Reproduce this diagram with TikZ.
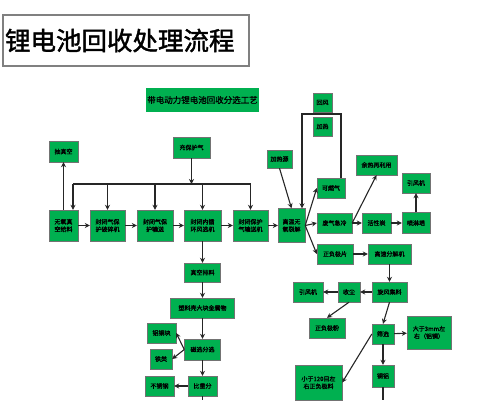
\documentclass[tikz,border=0pt]{standalone}
\usepackage{fontspec}
\newfontfamily\cjk[FakeBold=1.2]{Noto Sans CJK SC}
\newfontfamily\cjktitle[FakeBold=1.6]{Noto Sans CJK SC}
\usetikzlibrary{arrows.meta, calc}
\definecolor{boxgreen}{RGB}{0,176,80}

\begin{document}
\begin{tikzpicture}[x=1pt, y=-1pt,
	box/.style={draw=black!55, fill=boxgreen, inner sep=0pt, align=center, font=\cjk\fontsize{6}{7.5}\selectfont},
	sz/.style 2 args={minimum width=#1pt, minimum height=#2pt},
	link/.style={line width=1.1pt, black!85, -{Stealth[length=5pt, width=5pt]}},
	plain/.style={line width=1.1pt, black!85}]
	\useasboundingbox (0,0) rectangle (500,400);
	% title and header
	\node[draw=black!50, line width=2pt, minimum height=51pt, inner xsep=2pt, text width=242pt, align=left, font=\cjktitle\fontsize{25.5}{30}\selectfont] (title) at (126,40.5) {锂电池回收处理流程};
	\node[box, draw=none, sz={113}{24}, font=\cjk\fontsize{8.5}{10}\selectfont] (head) at (202.5,100) {带电动力锂电池回收分选工艺};
	% main line
	\node[box, sz={29}{21}] (cz) at (63.5,151.5) {抽真空};
	\node[box, sz={37}{21}] (cbh) at (191.5,147.5) {充保护气};
	\node[box, sz={29}{31}] (wy) at (63.5,225.5) {无氧真\\空给料};
	\node[box, sz={35}{31}] (psj) at (107.5,225.5) {封闭气保\\护破碎机};
	\node[box, sz={36}{31}] (ss) at (155,225.5) {封闭气保\\护输送};
	\node[box, sz={37}{31}] (fx) at (202.5,225.5) {封闭内循\\环风选机};
	\node[box, sz={35}{31}] (ssj) at (250.5,225.5) {封闭保护\\气输送机};
	\node[box, sz={27}{34}] (lj) at (291.5,225.5) {高温无\\氧裂解};
	\node[box, sz={25}{18}] (jry) at (279.5,159) {加热源};
	% gas side
	\node[box, sz={19}{19}] (hf) at (322.5,102.5) {回风};
	\node[box, sz={19}{19}] (jr) at (322.5,126.5) {加热};
	\node[box, sz={28}{20}] (krq) at (331,188) {可燃气};
	\node[box, sz={41}{20}] (yr) at (376.5,165) {余热再利用};
	\node[box, sz={35}{20}] (fq) at (334.5,223) {废气急冷};
	\node[box, sz={29}{20}] (hxt) at (376.5,223) {活性炭};
	\node[box, sz={28}{21}] (pl) at (416,223) {喷淋塔};
	\node[box, sz={28}{20}] (yfj1) at (416,183) {引风机};
	% electrode side
	\node[box, sz={36}{20}] (zfjp) at (335,254) {正负极片};
	\node[box, sz={43}{20}] (gsfj) at (389.5,254) {高速分解机};
	\node[box, sz={35}{20}] (xf) at (389.5,292) {旋风集料};
	\node[box, sz={22}{20}] (sc) at (349,292) {收尘};
	\node[box, sz={30}{20}] (yfj2) at (308,292) {引风机};
	\node[box, sz={36}{20}] (zfjf) at (327,328) {正负极粉};
	\node[box, sz={22}{20}] (sx) at (383,334) {筛选};
	\node[box, sz={44}{33}] (dy) at (429,332.5) {大于3mm左\\右（铝铜）};
	\node[box, sz={22}{22}] (tl) at (383,376) {铜铝};
	\node[box, sz={47}{35}] (xy) at (318.5,382.5) {小于120目左\\右正负极料};
	% shell and metal side
	\node[box, sz={36}{19}] (zkpl) at (202.5,272.5) {真空排料};
	\node[box, sz={64}{20}] (slk) at (202.5,308) {塑料壳大块金属物};
	\node[box, sz={29}{20}] (ltk) at (161.5,333) {铝铜块};
	\node[box, sz={36}{21}] (cx) at (202.5,349.5) {磁选分选};
	\node[box, sz={22}{20}] (tie) at (161,359) {铁类};
	\node[box, sz={29}{20}] (bzf) at (202.5,386) {比重分};
	\node[box, sz={29}{20}] (bxg) at (159.5,386) {不锈钢};

	% protective gas bus
	\coordinate (busL) at (73,184);
	\coordinate (busR) at (250.5,184);
	\draw[plain] (busL) -- (busR);
	\draw[link] (cbh.south) -- (cbh.south |- busL);
	\draw[link] (busL) -- (busL |- wy.north);
	\foreach \n in {psj, ss, fx, ssj} \draw[link] (busL -| \n.north) -- (\n.north);
	\draw[link] (wy) -- (cz);
	\foreach \a/\b in {wy/psj, psj/ss, ss/fx, fx/ssj, ssj/lj} \draw[link] (\a) -- (\b);
	% gas loop
	\coordinate (loopR) at (341,114);
	\coordinate (loopL) at (302,114);
	\draw[link] (krq.north -| loopR) -- (loopR) -- (loopL) -- (loopL |- lj.north);
	\draw[link] (jry.south) -- (lj.north);
	\draw[link] (lj.east) -- (krq.west);
	\draw[link] (lj.east) -- (fq.west);
	\draw[link] (lj.east) -- (zfjp.west);
	\draw[link] (fq.east) -- (yr.south);
	\foreach \a/\b in {fq/hxt, hxt/pl, pl/yfj1} \draw[link] (\a) -- (\b);
	% electrodes
	\foreach \a/\b in {zfjp/gsfj, gsfj/xf, xf/sc, sc/yfj2, sx/dy, sx/tl} \draw[link] (\a) -- (\b);
	\draw[link] (sc.south) -- (zfjf.north);
	\draw[link] (xf.south) -- (sx.north);
	\draw[link] (sx.west) -- (xy.east);
	\coordinate (out2) at (383,400);
	\draw[plain] (tl) -- (out2);
	% metals
	\foreach \a/\b in {fx/zkpl, zkpl/slk, slk/cx, cx/bzf, bzf/bxg} \draw[link] (\a) -- (\b);
	\draw[link] (cx.west) -- (ltk.east);
	\draw[link] (cx.west) -- (tie.east);
	\coordinate (out1) at (202.5,400);
	\draw[plain] (bzf) -- (out1);
\end{tikzpicture}
\end{document}
